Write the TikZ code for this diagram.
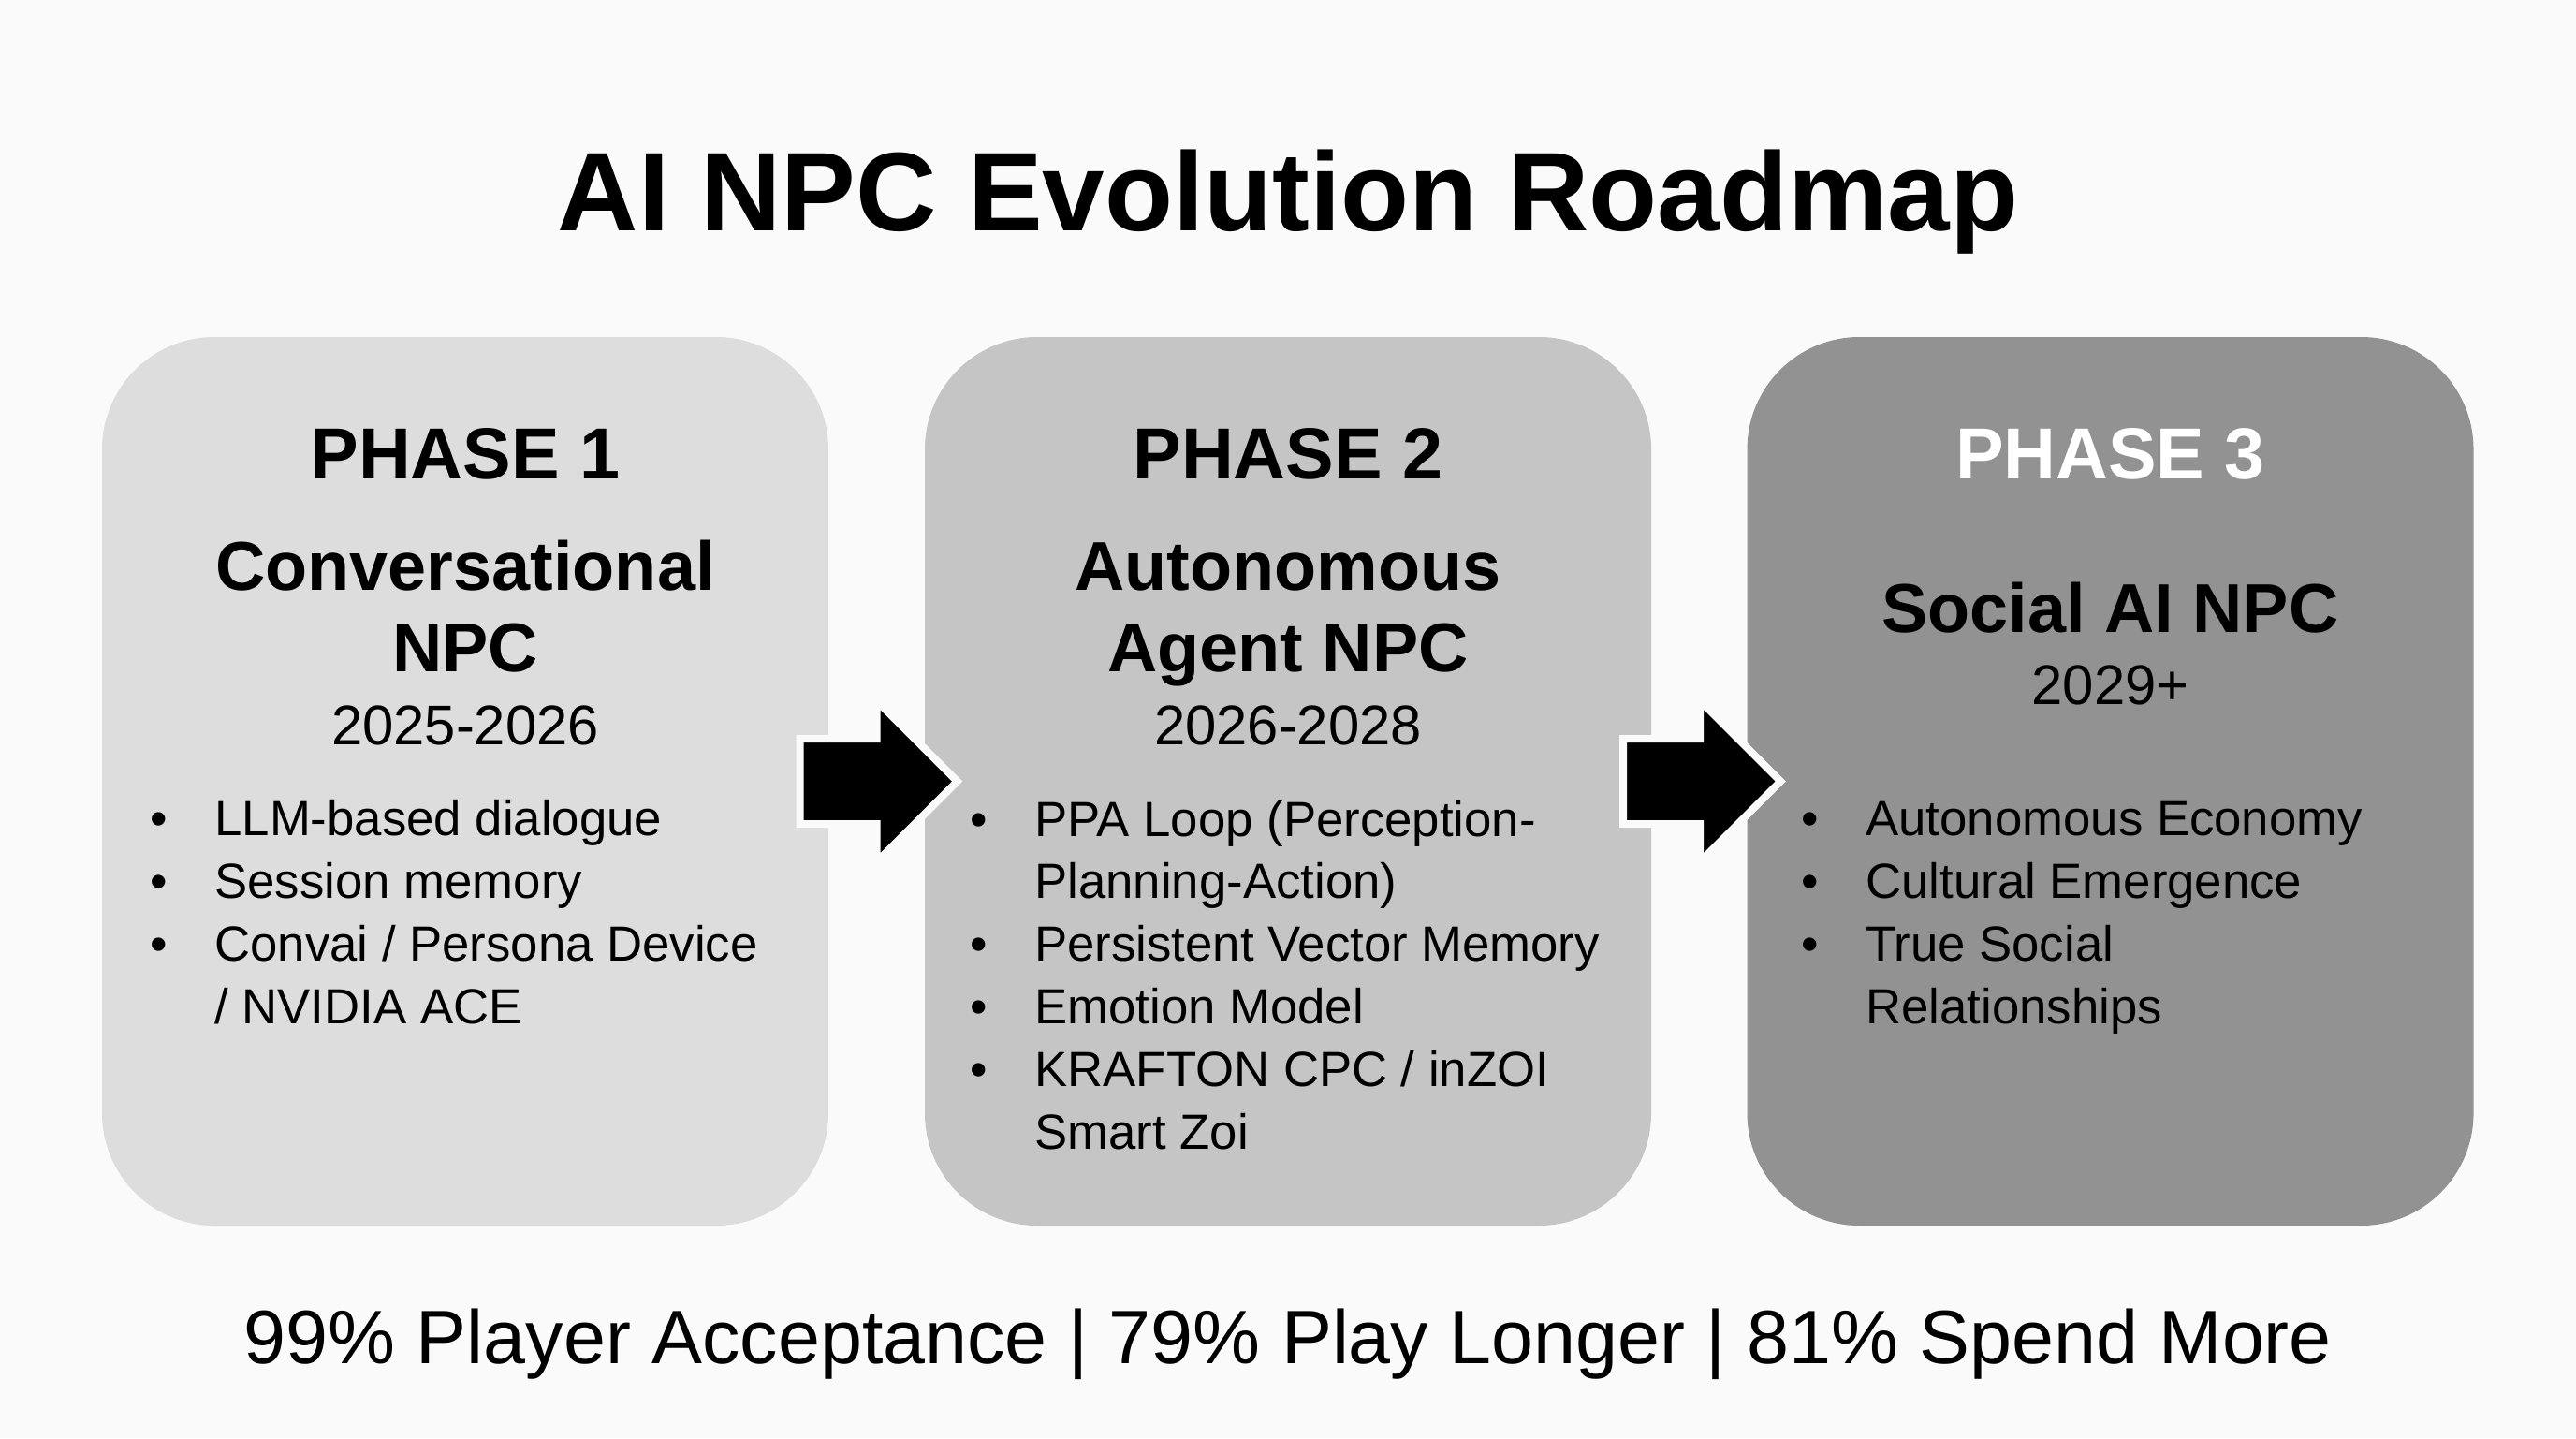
\documentclass[tikz,border=0pt]{standalone}
\usepackage{fontspec}
\setmainfont{Liberation Sans}
\usetikzlibrary{calc}
\usetikzlibrary{shapes.arrows}

\definecolor{bgcol}{HTML}{FAFAFA}
\definecolor{phaseone}{HTML}{DDDDDD}
\definecolor{phasetwo}{HTML}{C5C5C5}
\definecolor{phasethree}{HTML}{929292}

\newcommand{\itembul}{\llap{\textbullet\hspace{0.5cm}}}

\tikzset{
	title/.style={anchor=base, font=\bfseries\fontsize{34}{40}\selectfont},
	phasebox/.style={rounded corners=1.2cm, minimum width=7.76cm, minimum height=9.49cm, inner sep=0pt},
	phasehead/.style={anchor=base, font=\bfseries\fontsize{22}{26}\selectfont},
	phasename/.style={anchor=base, align=center, font=\bfseries\fontsize{21}{24.75}\selectfont},
	phaseyear/.style={anchor=base, font=\fontsize{17}{21}\selectfont},
	bullets/.style={anchor=base west, align=left, font=\fontsize{15}{19}\selectfont},
	blockarrow/.style={single arrow, fill=black, draw=bgcol, line width=0.08cm, inner sep=0pt, anchor=tip,
		minimum height=1.68cm, text height=0.83cm, text depth=0pt, single arrow head extend=0.405cm},
	footer/.style={anchor=base, font=\fontsize{23}{28}\selectfont}
}

\begin{document}
\begin{tikzpicture}
	%Background
	\fill[bgcol] (0,0) rectangle (27.52,-15.36);
	\useasboundingbox (0,0) rectangle (27.52,-15.36);

	%Nodes
	\node[title] (title) at (13.76,-2.46) {AI NPC Evolution Roadmap};

	\node[phasebox, fill=phaseone]   (box1) at (4.97,-8.345)   {};
	\node[phasebox, fill=phasetwo]   (box2) at (13.76,-8.345)  {};
	\node[phasebox, fill=phasethree] (box3) at (22.545,-8.345) {};

	\node[phasehead]        (head1) at (4.97,-5.11)   {PHASE 1};
	\node[phasehead]        (head2) at (13.76,-5.11)  {PHASE 2};
	\node[phasehead, white] (head3) at (22.545,-5.11) {PHASE 3};

	% base of a two-line node sits on its last line
	\node[phasename] (name1) at (4.97,-7.17)   {Conversational\\NPC};
	\node[phasename] (name2) at (13.76,-7.17)  {Autonomous\\Agent NPC};
	\node[phasename] (name3) at (22.545,-6.75) {Social AI NPC};

	\node[phaseyear] (year1) at (4.97,-7.95)   {2025-2026};
	\node[phaseyear] (year2) at (13.76,-7.95)  {2026-2028};
	\node[phaseyear] (year3) at (22.545,-7.52) {2029+};

	\node[bullets] (list1) at (2.17,-10.93) {\itembul LLM-based dialogue\\
		\itembul Session memory\\
		\itembul Convai / Persona Device\\
		/ NVIDIA ACE};
	\node[bullets] (list2) at (10.93,-12.27) {\itembul PPA Loop (Perception-\\
		Planning-Action)\\
		\itembul Persistent Vector Memory\\
		\itembul Emotion Model\\
		\itembul KRAFTON CPC / inZOI\\
		Smart Zoi};
	\node[bullets] (list3) at (19.81,-10.93) {\itembul Autonomous Economy\\
		\itembul Cultural Emergence\\
		\itembul True Social\\
		Relationships};

	%Arrows
	\node[blockarrow] (arrow1) at ($(box2.west)+(0.41,0)$) {};
	\node[blockarrow] (arrow2) at ($(box3.west)+(0.42,0)$) {};

	\node[footer] (stats) at (13.76,-14.56) {99\% Player Acceptance | 79\% Play Longer | 81\% Spend More};
\end{tikzpicture}
\end{document}
